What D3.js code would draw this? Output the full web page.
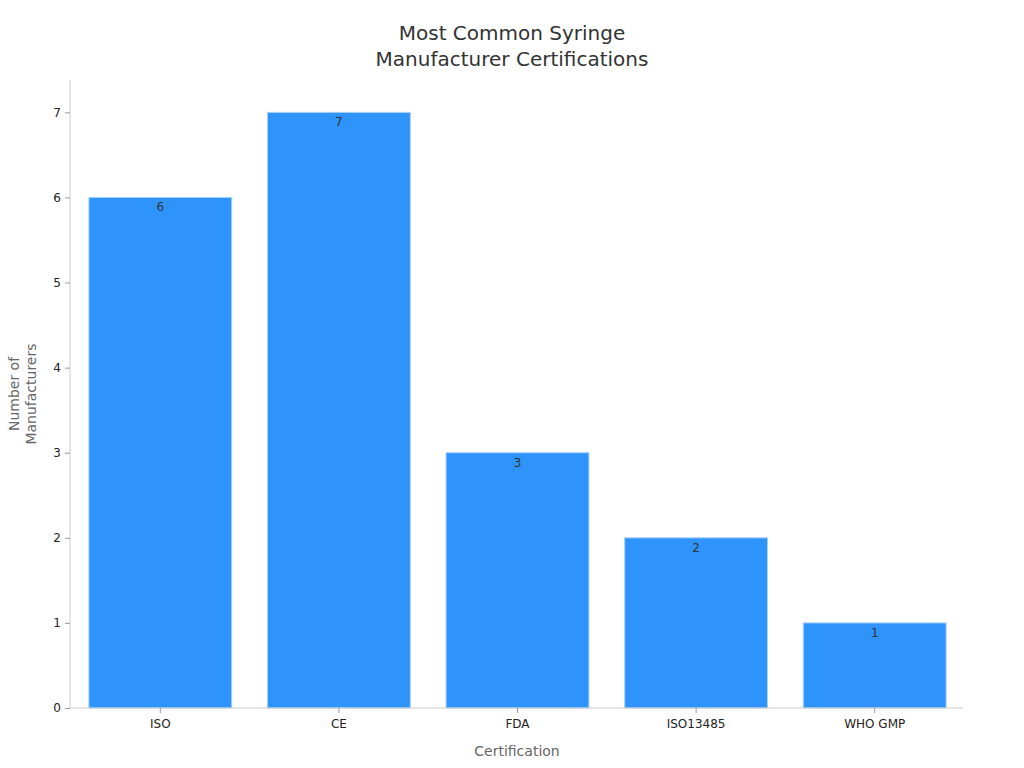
<!DOCTYPE html>
<html><head><meta charset="utf-8">
<script src="https://cdn.jsdelivr.net/npm/d3@7"></script>
<style>body{margin:0;background:#fff;}svg{display:block;font-family:"DejaVu Sans",sans-serif;}</style>
</head><body><svg id="c" width="1024" height="768"></svg>
<script>
const categories = ["ISO","CE","FDA","ISO13485","WHO GMP"];
const values = [6,7,3,2,1];
const yTicks = [0,1,2,3,4,5,6,7];

const svg = d3.select("#c");
const m = {l:70, r:61, t:80, b:60};
const W = 1024, H = 768;
const x = d3.scaleBand().domain(categories).range([m.l+1, W-m.r+1]).paddingInner(0.2).paddingOuter(0.1);
const y = d3.scaleLinear().domain([0,7.38]).range([H-m.b, m.t]);

svg.append("text").attr("x",512).attr("y",40).attr("text-anchor","middle")
  .attr("font-size",20).attr("fill","#333").text("Most Common Syringe");
svg.append("text").attr("x",512).attr("y",66).attr("text-anchor","middle")
  .attr("font-size",20).attr("fill","#333").text("Manufacturer Certifications");

svg.selectAll("rect.bar").data(values).join("rect").attr("class","bar")
  .attr("x",(d,i)=>x(categories[i])).attr("width",x.bandwidth())
  .attr("y",d=>y(d)).attr("height",d=>y(0)-y(d))
  .attr("fill","#2e93fa").attr("stroke","#a9d2fb").attr("stroke-width",1);

svg.selectAll("text.lbl").data(values).join("text").attr("class","lbl")
  .attr("x",(d,i)=>x(categories[i])+x.bandwidth()/2).attr("y",d=>y(d)+14)
  .attr("text-anchor","middle").attr("font-size",12).attr("fill","#333").text(d=>d);

const ya = svg.append("g").attr("transform",`translate(${m.l},0)`)
  .call(d3.axisLeft(y).tickValues(yTicks).tickSize(5).tickPadding(4).tickFormat(d3.format("d")));
const xa = svg.append("g").attr("transform",`translate(0,${H-m.b})`)
  .call(d3.axisBottom(x).tickSize(5).tickPadding(6));
[ya,xa].forEach(g=>{
  g.select(".domain").attr("stroke","#ccc");
  g.selectAll(".tick line").attr("stroke","#999");
  g.selectAll(".tick text").attr("font-size",12).attr("fill","#222").attr("font-family","DejaVu Sans");
});
ya.select(".domain").attr("d",`M0,${m.t}V${H-m.b}`);
xa.select(".domain").attr("d",`M${m.l},0H${W-m.r}`);

svg.append("text").attr("x",517).attr("y",756).attr("text-anchor","middle")
  .attr("font-size",14).attr("fill","#666").text("Certification");
const yl = svg.append("text").attr("transform","translate(0,394) rotate(-90)")
  .attr("text-anchor","middle").attr("font-size",14).attr("fill","#666");
yl.append("tspan").attr("x",0).attr("y",19).text("Number of");
yl.append("tspan").attr("x",0).attr("y",36).text("Manufacturers");
</script></body></html>
